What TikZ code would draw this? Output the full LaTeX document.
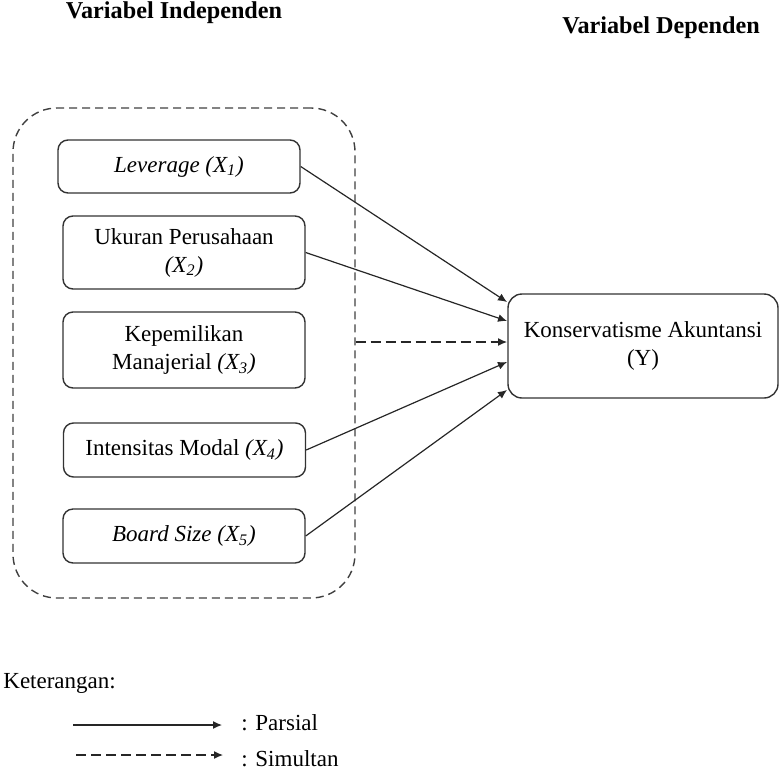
\documentclass[tikz,border=0pt]{standalone}
\usepackage{fontspec}
\setmainfont{Liberation Serif}
\usetikzlibrary{arrows.meta,positioning}

\begin{document}
\begin{tikzpicture}[x=0.5pt, y=-0.5pt,
    font=\fontsize{11.5}{14}\selectfont,
    headtext/.style={font=\fontsize{12.1}{14}\selectfont\bfseries},
    varbox/.style={rectangle, draw=black!80, line width=0.7pt, rounded corners=5pt,
                   minimum width=121pt, align=center, inner sep=0pt},
    groupbox/.style={rectangle, draw=black!75, line width=0.7pt, dash pattern=on 4pt off 2.5pt,
                     rounded corners=22pt, minimum width=171pt, minimum height=245pt},
    parsial/.style={-{Latex[length=4.5pt,width=4pt]}, line width=0.6pt, color=black!85},
    simultan/.style={parsial, dash pattern=on 5pt off 2.5pt}
]
    \useasboundingbox (0,0) rectangle (779,771);

    % Headings
    \node[headtext] (indephead) at (174,13) {Variabel Independen};
    \node[headtext] (dephead) at (661,28) {Variabel Dependen};

    % Independent variables
    \node[groupbox] (indepgroup) at (184,353) {};
    \node[varbox, minimum height=26.5pt] (lev) at (179,166.5) {\itshape Leverage (X\textsubscript{1})};
    \node[varbox, minimum height=36.5pt] (uk) at (184,252.5) {Ukuran Perusahaan\\\itshape (X\textsubscript{2})};
    \node[varbox, minimum height=38pt] (kep) at (184,350) {Kepemilikan\\Manajerial \textit{(X\textsubscript{3})}};
    \node[varbox, minimum height=27pt] (int) at (184.5,450) {Intensitas Modal \textit{(X\textsubscript{4})}};
    \node[varbox, minimum height=27pt] (board) at (184,536) {\itshape Board Size (X\textsubscript{5})};

    % Dependent variable
    \node[varbox, rounded corners=7pt, minimum width=135pt, minimum height=52pt] (kons) at (643,346)
        {Konservatisme Akuntansi\\(Y)};

    % Arrow ends on the dependent box
    \coordinate (in1) at (507,302);
    \coordinate (in2) at (507,321);
    \coordinate (in3) at (507,342);
    \coordinate (in4) at (507,362);
    \coordinate (in5) at (507,390);

    % Connections
    \draw[parsial] (lev.east) -- (in1);
    \draw[parsial] (uk.east) -- (in2);
    \draw[simultan] (indepgroup.east |- in3) -- (in3);
    \draw[parsial] (int.east) -- (in4);
    \draw[parsial] (board.east) -- (in5);

    % Legend
    \node[anchor=west, inner sep=0pt] (ket) at (3,683) {Keterangan:};
    \coordinate (lp1) at (73,725);
    \coordinate (lp2) at (222,725);
    \coordinate (ls1) at (76,755);
    \coordinate (ls2) at (223,755);
    \draw[parsial] (lp1) -- (lp2);
    \draw[simultan] (ls1) -- (ls2);
    \node[anchor=west, inner sep=0pt] (lparsial) at (241,723) {: Parsial};
    \node[anchor=west, inner sep=0pt] (lsimultan) at (241,759) {: Simultan};
\end{tikzpicture}
\end{document}
